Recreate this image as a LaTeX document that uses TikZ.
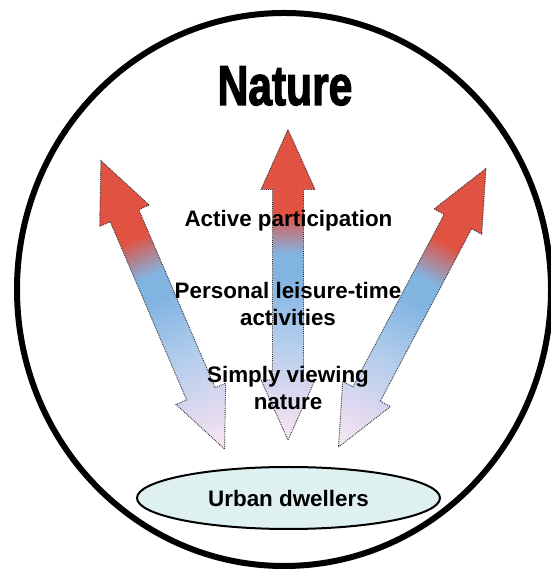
\documentclass[tikz,border=0pt]{standalone}
\usepackage{fontspec}
\setmainfont{Liberation Sans}
\newfontfamily\heavyfont{Liberation Sans}[BoldFeatures={FakeBold=2.6}]
\usetikzlibrary{shapes.geometric}

% colours of the arrow gradient and the ellipse
\definecolor{arrowred}{RGB}{224,82,66}
\definecolor{arrowblue}{RGB}{130,180,226}
\definecolor{paleblue}{RGB}{178,205,236}
\definecolor{palelav}{RGB}{226,218,240}
\definecolor{palepink}{RGB}{248,232,242}
\definecolor{dwellerfill}{RGB}{222,240,240}

% gradient along an arrow: 25bp = lower tip, 75bp = upper tip
\pgfdeclareverticalshading{arrowgrad}{100bp}{%
  color(0bp)=(palepink); color(25bp)=(palepink);
  color(31bp)=(palelav); color(41bp)=(paleblue);
  color(51bp)=(arrowblue); color(55bp)=(arrowblue);
  color(61.5bp)=(arrowred); color(100bp)=(arrowred)}

\tikzset{
  arrowbody/.style={shade, shading=arrowgrad, draw=black!80,
    densely dotted, line width=0.9pt, line join=miter},
  label/.style={font=\fontsize{22.4}{27}\selectfont\bfseries,
    align=center, inner sep=0pt},
}

% double-headed block arrow: lower tip at (#1,#2), turned by #3, length #4
\newcommand\twowayarrow[4]{%
  \begin{scope}[transform canvas={shift={(#1,#2)},rotate=#3}]
    \path[arrowbody] (0,0) -- (27,60) -- (15.5,60) -- (15.5,#4-60)
      -- (27,#4-60) -- (0,#4) -- (-27,#4-60) -- (-15.5,#4-60)
      -- (-15.5,60) -- (-27,60) -- cycle;
  \end{scope}}

\begin{document}
\begin{tikzpicture}[x=1pt,y=1pt]
  \useasboundingbox (0,0) rectangle (550,572);

  % outer world circle
  \node (world) [draw, line width=6pt, ellipse,
    minimum width=534, minimum height=553, inner sep=0pt] at (284,282.5) {};

  % three arrows between the dwellers and nature
  \twowayarrow{224.5}{123}{23.2}{313.8}
  \twowayarrow{288}{132}{0}{310.5}
  \twowayarrow{338.5}{125}{-27.9}{315.1}

  % titles and levels
  \node (nature) at (285,486)
    {\fontsize{56}{60}\heavyfont\bfseries\scalebox{0.76}[1]{Nature}};
  \node (active) [label] at (288.5,351.5) {Active participation};
  \node (leisure) [label] at (288,268) {Personal leisure-time\\activities};
  \node (viewing) [label] at (288,184.5) {Simply viewing\\nature};

  % urban dwellers
  \node (urban) [ellipse, draw, line width=2pt, fill=dwellerfill,
    minimum width=303, minimum height=62, inner sep=0pt,
    font=\fontsize{22.4}{27}\selectfont\bfseries] at (288.5,74) {Urban dwellers};
\end{tikzpicture}
\end{document}
